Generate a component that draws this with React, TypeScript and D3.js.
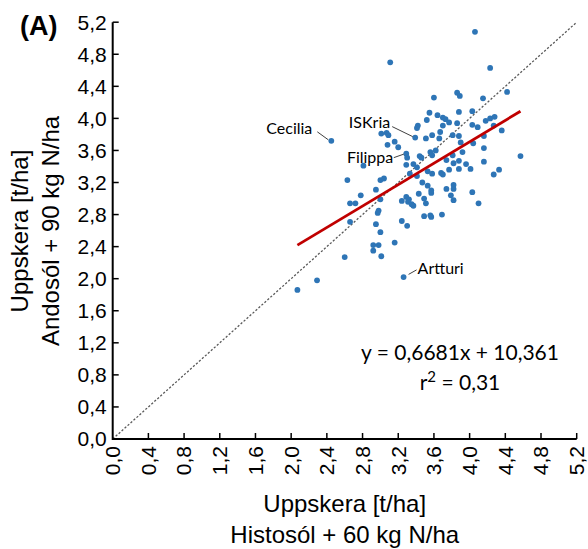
import React from "react";
import * as d3 from "d3";

// Histosól + 60 kg N/ha (x) vs Andosól + 90 kg N/ha (y), t/ha
const xVals = [
  4.06, 3.11, 4.23, 4.42, 3.86, 3.89, 3.60, 4.15, 4.03, 3.88,
  3.55, 3.64, 3.70, 3.73, 3.52, 4.23, 4.28, 4.18, 3.77, 3.86,
  4.03, 3.42, 3.41, 3.70, 4.27, 4.09, 4.36, 3.67, 3.07, 3.01,
  3.09, 3.58, 3.81, 3.88, 4.16, 3.39, 3.51, 3.66, 2.45, 3.16,
  3.90, 4.04, 3.08, 3.20, 4.16, 3.62, 3.56, 3.92, 3.29, 3.58,
  3.81, 3.44, 4.57, 3.30, 3.46, 3.74, 3.88, 4.16, 3.82, 3.37,
  3.29, 3.96, 2.81, 3.41, 4.01, 3.88, 3.77, 4.33, 3.53, 3.58,
  3.68, 3.70, 3.33, 3.41, 4.27, 2.63, 3.00, 3.04, 3.47, 3.82,
  3.53, 3.74, 3.82, 2.95, 3.57, 3.57, 4.03, 3.43, 3.79, 2.78,
  3.29, 3.32, 3.31, 3.35, 3.37, 3.24, 3.49, 3.00, 3.82, 3.51,
  2.66, 2.72, 4.10, 2.98, 2.97, 3.69, 3.49, 3.56, 3.57, 2.66,
  2.95, 3.24, 3.30, 3.00, 3.16, 2.92, 2.98, 2.92, 3.01, 2.60,
  3.26, 2.29, 2.07,
];
const yVals = [
  5.08, 4.70, 4.63, 4.33, 4.32, 4.28, 4.26, 4.25, 4.09, 4.08,
  4.07, 4.04, 4.01, 3.99, 3.98, 4.00, 4.02, 3.97, 3.95, 3.94,
  3.92, 3.91, 3.88, 3.91, 3.91, 3.89, 3.85, 3.83, 3.82, 3.81,
  3.79, 3.79, 3.79, 3.78, 3.78, 3.76, 3.75, 3.75, 3.72, 3.71,
  3.70, 3.69, 3.67, 3.64, 3.63, 3.60, 3.58, 3.58, 3.56, 3.54,
  3.54, 3.53, 3.53, 3.51, 3.51, 3.48, 3.47, 3.46, 3.44, 3.43,
  3.42, 3.43, 3.41, 3.39, 3.37, 3.37, 3.36, 3.36, 3.34, 3.31,
  3.32, 3.30, 3.31, 3.28, 3.30, 3.23, 3.23, 3.25, 3.20, 3.17,
  3.16, 3.12, 3.12, 3.11, 3.10, 3.07, 3.08, 3.06, 3.04, 3.04,
  3.02, 2.99, 2.96, 2.93, 2.91, 2.97, 3.00, 2.99, 2.98, 2.94,
  2.94, 2.94, 2.94, 2.85, 2.82, 2.80, 2.78, 2.79, 2.77, 2.71,
  2.68, 2.72, 2.66, 2.58, 2.45, 2.42, 2.42, 2.35, 2.28, 2.27,
  2.02, 1.98, 1.86,
];

const namedCultivars = ["Cecilia", "ISKria", "Filippa", "Artturi"];
const namedX = [2.45, 3.39, 3.29, 3.26];
const namedY = [3.72, 3.76, 3.56, 2.02];

const tickValues = [0, 0.4, 0.8, 1.2, 1.6, 2.0, 2.4, 2.8, 3.2, 3.6, 4.0, 4.4, 4.8, 5.2];
const slope = 0.6681;
const intercept = 1.0361; // t/ha (equation shown in hkg/ha)
const equationText = "y = 0,6681x + 10,361";
const r2Text = "0,31";

const fmt = (v: number) => v.toFixed(1).replace(".", ",");

export default function App() {
  const W = 588;
  const H = 549;
  const x = d3.scaleLinear().domain([0, 5.2]).range([112.7, 576.7]);
  const y = d3.scaleLinear().domain([0, 5.2]).range([439, 22.2]);

  const points = xVals.map((v, i) => ({ x: v, y: yVals[i] }));
  const [xmin, xmax] = d3.extent(xVals) as [number, number];
  const regLine = d3.line<number>()
    .x((d) => x(d))
    .y((d) => y(slope * d + intercept))([xmin, xmax]);

  // label offsets (pixels) relative to their point
  const labelCfg = [
    { dx: -19, dy: -12, anchor: "end", l1: [-14, -9], l2: [-3, -1] },
    { dx: -25, dy: -15.5, anchor: "end", l1: [-23, -11], l2: [-2.5, -1] },
    { dx: -13, dy: 3.5, anchor: "end", l1: [-12.5, 4], l2: [-2.5, 0.5] },
    { dx: 14, dy: -8.5, anchor: "start", l1: [5, -2.7], l2: [13, -7.2] },
  ];

  const font = "'Liberation Sans', Arial, sans-serif";

  return (
    <svg
      width={W}
      height={H}
      style={{ position: "absolute", left: 0, top: 0, background: "#fff" }}
      fontFamily={font}
    >
      <rect width={W} height={H} fill="#fff" />
      {/* 1:1 line */}
      <line
        x1={x(0)} y1={y(0)} x2={x(5.2)} y2={y(5.2)}
        stroke="#595959" strokeWidth={1.3} strokeDasharray="2.2,1.8"
      />
      {/* points */}
      {points.map((p, i) => (
        <circle key={i} cx={x(p.x)} cy={y(p.y)} r={2.9} fill="#2E75B6" />
      ))}
      {/* regression line */}
      <path d={regLine || ""} stroke="#C00000" strokeWidth={2.8} fill="none" />

      {/* cultivar labels */}
      {namedCultivars.map((name, i) => {
        const px = x(namedX[i]);
        const py = y(namedY[i]);
        const c = labelCfg[i];
        return (
          <g key={name}>
            <line
              x1={px + c.l1[0]} y1={py + c.l1[1]} x2={px + c.l2[0]} y2={py + c.l2[1]}
              stroke="#404040" strokeWidth={1}
            />
            <text
              x={px + c.dx} y={py + c.dy} dy="0.35em" textAnchor={c.anchor as any}
              fontFamily="Lato, 'Open Sans', sans-serif" fontSize={16} fill="#000"
            >
              {name}
            </text>
          </g>
        );
      })}

      {/* axes */}
      <line x1={x(0)} y1={y(0)} x2={x(5.2)} y2={y(0)} stroke="#000" strokeWidth={2} />
      <line x1={x(0)} y1={y(0) + 1} x2={x(0)} y2={y(5.2)} stroke="#000" strokeWidth={2} />
      {tickValues.map((t) => (
        <g key={"x" + t}>
          {t > 0 && <line x1={x(t)} y1={y(0)} x2={x(t)} y2={y(0) - 6} stroke="#000" strokeWidth={1.5} />}
          <text
            transform={`translate(${x(t)},${y(0) + 7}) rotate(-90)`}
            textAnchor="end" dy="0.35em" fontSize={21} fill="#000"
          >
            {fmt(t)}
          </text>
        </g>
      ))}
      {tickValues.map((t) => (
        <g key={"y" + t}>
          {t > 0 && <line x1={x(0)} y1={y(t)} x2={x(0) + 6} y2={y(t)} stroke="#000" strokeWidth={1.5} />}
          <text x={x(0) - 6} y={y(t)} dy="0.35em" textAnchor="end" fontSize={21} fill="#000">
            {fmt(t)}
          </text>
        </g>
      ))}

      {/* axis titles */}
      <text x={344.7} y={512} textAnchor="middle" fontSize={24}>Uppskera [t/ha]</text>
      <text x={344.7} y={543} textAnchor="middle" fontSize={24}>Histosól + 60 kg N/ha</text>
      <text transform="translate(28,231) rotate(-90)" textAnchor="middle" fontSize={24}>Uppskera [t/ha]</text>
      <text transform="translate(59,231) rotate(-90)" textAnchor="middle" fontSize={24}>Andosól + 90 kg N/ha</text>

      {/* panel letter */}
      <text x={20} y={35} fontSize={27} fontWeight="bold">(A)</text>

      {/* equation */}
      <text x={460} y={360} textAnchor="middle" fontFamily="Lato, 'Open Sans', sans-serif" fontSize={21}>
        {equationText}
      </text>
      <text x={460} y={390} textAnchor="middle" fontFamily="Lato, 'Open Sans', sans-serif" fontSize={21}>
        r<tspan dy={-8} fontSize={15}>2</tspan><tspan dy={8}> = {r2Text}</tspan>
      </text>
    </svg>
  );
}
